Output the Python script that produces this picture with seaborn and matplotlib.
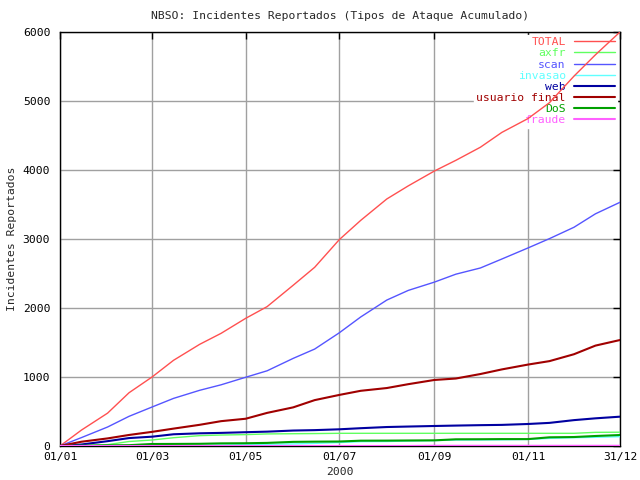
import numpy as np
import pandas as pd
import matplotlib
matplotlib.use("Agg")
import matplotlib.pyplot as plt
import matplotlib.dates as mdates
import seaborn as sns

# ---- data ----
dates = ["2000-01-01", "2000-01-15", "2000-02-01", "2000-02-15", "2000-03-01",
         "2000-03-15", "2000-04-01", "2000-04-15", "2000-05-01", "2000-05-15",
         "2000-06-01", "2000-06-15", "2000-07-01", "2000-07-15", "2000-08-01",
         "2000-08-15", "2000-09-01", "2000-09-15", "2000-10-01", "2000-10-15",
         "2000-11-01", "2000-11-15", "2000-12-01", "2000-12-15", "2000-12-31"]

total = [0, 231, 476, 772, 1000, 1242, 1473, 1633, 1850, 2020, 2330, 2590, 2990,
         3270, 3580, 3770, 3985, 4140, 4330, 4545, 4745, 4975, 5360, 5670, 6000]
axfr = [0, 0, 20, 65, 87, 120, 150, 159, 165, 175, 178, 180, 184, 184, 184, 184,
        184, 184, 184, 184, 184, 184, 184, 198, 200]
scan = [0, 122, 275, 430, 565, 690, 807, 887, 996, 1090, 1270, 1405, 1640, 1870,
        2115, 2255, 2375, 2490, 2580, 2710, 2870, 3005, 3170, 3365, 3532]
invasao = [0, 0, 2, 5, 8, 10, 12, 15, 20, 25, 30, 38, 50, 63, 65, 72, 78, 87, 88,
           90, 95, 111, 120, 126, 135]
web = [0, 22, 70, 115, 135, 170, 184, 190, 200, 208, 224, 230, 242, 258, 275, 282,
       290, 296, 302, 306, 319, 335, 375, 401, 425]
usuario_final = [0, 62, 110, 160, 205, 252, 307, 360, 395, 480, 560, 665, 740, 800,
                 840, 896, 957, 978, 1043, 1110, 1180, 1230, 1330, 1455, 1536]
dos = [0, 5, 10, 12, 29, 30, 32, 38, 40, 45, 60, 63, 65, 77, 78, 80, 82, 97, 98,
       100, 100, 126, 130, 145, 159]
fraude = [0, 0, 0, 0, 0, 0, 0, 0, 0, 0, 0, 0, 0, 0, 0, 0, 3, 3, 3, 3, 3, 3, 3, 3, 3]

series_names = ["TOTAL", "axfr", "scan", "invasao", "web", "usuario final", "DoS", "fraude"]
series_values = [total, axfr, scan, invasao, web, usuario_final, dos, fraude]
series_colors = ["#ff5050", "#60ff60", "#5555ff", "#60ffff", "#0000a0", "#a00000", "#00a000", "#ff60ff"]
series_widths = [1.0, 1.0, 1.0, 1.0, 1.5, 1.5, 1.5, 1.5]

xtick_dates = ["2000-01-01", "2000-03-01", "2000-05-01", "2000-07-01",
               "2000-09-01", "2000-11-01", "2000-12-31"]
yticks = [0, 1000, 2000, 3000, 4000, 5000, 6000]

title = "NBSO: Incidentes Reportados (Tipos de Ataque Acumulado)"
ylabel = "Incidentes Reportados"
xlabel = "2000"

# ---- plotting ----
sns.set_style("white")
plt.rcParams["font.family"] = ["DejaVu Sans Mono", "DejaVu Sans"]
FS = 8.2

fig = plt.figure(figsize=(6.4, 4.8), dpi=100)
ax = fig.add_axes([60 / 640, 34 / 480, 560 / 640, 414 / 480])

x = pd.to_datetime(dates)
for name, vals, col, lw in zip(series_names, series_values, series_colors, series_widths):
    sns.lineplot(x=x, y=vals, ax=ax, color=col, linewidth=lw, label=name, zorder=3)

ax.set_xlim(pd.Timestamp("2000-01-01"), pd.Timestamp("2000-12-31"))
ax.set_ylim(0, 6000)
ax.set_xticks(pd.to_datetime(xtick_dates))
ax.xaxis.set_major_formatter(mdates.DateFormatter("%d/%m"))
ax.set_yticks(yticks)

ax.grid(True, color="#a0a0a0", linewidth=1.0, zorder=0)
ax.set_axisbelow(True)
for s in ax.spines.values():
    s.set_color("black")
    s.set_linewidth(1.0)

ax.tick_params(axis="both", direction="in", length=5, width=1, top=True, right=True,
               labelsize=FS, colors="black")
ax.tick_params(axis="y", pad=7)
ax.tick_params(axis="x", pad=4)

ax.set_xlabel(xlabel, fontsize=FS, va="center")
ax.xaxis.set_label_coords(0.5, (446 - 472) / 414)
ax.set_ylabel(ylabel, fontsize=FS, va="center")
ax.yaxis.set_label_coords((12 - 60) / 560, 0.5)
fig.text(340 / 640, 1 - 16 / 480, title, fontsize=FS, ha="center", va="center")

handles, labels = ax.get_legend_handles_labels()
leg = ax.legend(handles, labels, loc="upper right",
                bbox_to_anchor=(617 / 640, 1 - 35 / 480), bbox_transform=fig.transFigure,
                markerfirst=False, labelcolor="linecolor", frameon=True,
                facecolor="white", edgecolor="white", fancybox=False, framealpha=1,
                borderpad=0.2, labelspacing=0.1, handlelength=3.6, handletextpad=0.7,
                fontsize=FS, borderaxespad=0)
leg.set_zorder(2.5)

fig.savefig("out.png", dpi=100)
